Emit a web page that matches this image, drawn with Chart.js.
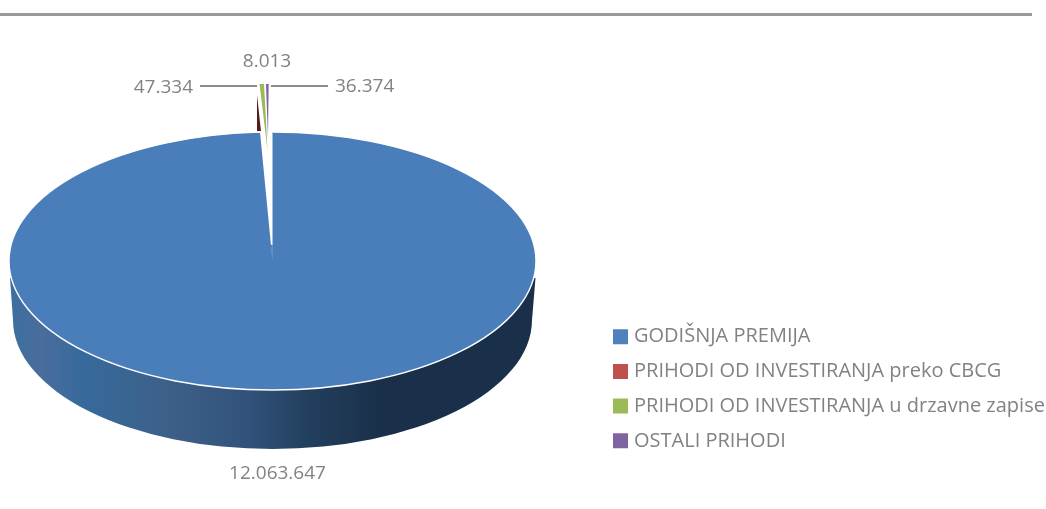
<!DOCTYPE html>
<html><head><meta charset="utf-8">
<style>
html,body{margin:0;padding:0;background:#fff;width:1046px;height:509px;overflow:hidden}
#rule{position:absolute;left:0;top:13px;width:1032px;height:3px;background:#999a9c}
#wrap{position:absolute;left:0;top:0;width:1046px;height:509px}
</style>
<script src="https://cdn.jsdelivr.net/npm/chart.js@4"></script>
</head><body>
<div id="wrap"><canvas id="c" width="1046" height="509"></canvas></div>
<div id="rule"></div>
<script>
const categories = ["GODIŠNJA PREMIJA","PRIHODI OD INVESTIRANJA preko CBCG","PRIHODI OD INVESTIRANJA u drzavne zapise","OSTALI PRIHODI"];
const values = [12063647, 47334, 8013, 36374];
const legendColors = ["#4f81bd","#c0504d","#9bbb59","#8064a2"];
const sliceColors = ["#4a7ebb","#551c1c","#9bbb59","#8064a2"];

const TEXT = "#808285";
const FONT = '"Open Sans"';
const face = {cx:272.5, cy:261, rx:263.5, ry:129};
const base = {cx:272.5, cy:320, rx:259.5, ry:129, topY:278};
const tipY = 245;
const legendLeft = 602.3;
const slivers = {
  1:{tip:[257,95],  rim:[259,131],  w:4},
  2:{tip:[267.5,150],rim:[261.8,84],w:4.5},
  3:{tip:[268,138], rim:[267.3,84], w:2.7}
};
const labelPos = [[277.5,473.5,"center"],[193,88,"right"],[267,62,"center"],[335,87,"left"]];
const leaders = [[200,257,86],[271,328,86]];
const fmt = v => String(v).replace(/\B(?=(\d{3})+(?!\d))/g,".");

const pie3d = {
  id:"pie3d",
  afterLayout(chart){ chart.legend.left = legendLeft; },
  beforeDatasetsDraw(chart){
    const ctx = chart.ctx, arcs = chart.getDatasetMeta(0).data, blue = arcs[0];
    const R = blue.outerRadius, Cx = blue.x, Cy = blue.y;
    // side wall
    const g = ctx.createLinearGradient(face.cx-face.rx,0,face.cx+face.rx,0);
    [[0,"#3a6f9f"],[0.06,"#4a6d9c"],[0.14,"#366a9c"],[0.30,"#3d6088"],[0.45,"#32527c"],[0.56,"#23405f"],[0.70,"#1a304a"],[1,"#1a304a"]].forEach(s=>g.addColorStop(s[0],s[1]));
    ctx.save();
    ctx.beginPath();
    ctx.moveTo(face.cx-face.rx+1,base.topY);
    ctx.lineTo(base.cx-base.rx,base.cy);
    ctx.ellipse(base.cx,base.cy,base.rx,base.ry,0,Math.PI,0,true);
    ctx.lineTo(face.cx+face.rx-0.5,base.topY);
    ctx.lineTo(face.cx,face.cy);
    ctx.closePath();
    ctx.fillStyle = g; ctx.fill();
    ctx.restore();
    // top face
    ctx.save();
    ctx.translate(face.cx,face.cy);
    ctx.scale(face.rx/R,face.ry/R);
    ctx.translate(-Cx,-Cy);
    blue.draw(ctx);
    // wedge tip closure
    const f = (face.cy-tipY)/face.ry*R;
    ctx.beginPath();
    ctx.moveTo(Cx,Cy+2);
    ctx.lineTo(Cx+f*Math.cos(blue.endAngle),Cy+f*Math.sin(blue.endAngle));
    ctx.lineTo(Cx+f*Math.cos(blue.startAngle),Cy+f*Math.sin(blue.startAngle));
    ctx.closePath();
    ctx.fillStyle = sliceColors[0]; ctx.strokeStyle = sliceColors[0]; ctx.lineWidth = 0.5;
    ctx.fill(); ctx.stroke();
    ctx.restore();
    // rim highlight
    ctx.save();
    ctx.beginPath();
    ctx.ellipse(face.cx,face.cy,face.rx,face.ry,0,blue.startAngle,blue.endAngle);
    ctx.strokeStyle="#ffffff"; ctx.lineWidth=1.4; ctx.stroke();
    ctx.restore();
    // exploded slivers
    for(let i=1;i<arcs.length;i++){
      const a = arcs[i], s = slivers[i];
      const mid=(a.startAngle+a.endAngle)/2, hw=(a.endAngle-a.startAngle)/2;
      const dx=Math.cos(mid),dy=Math.sin(mid),px=-dy,py=dx;
      const e1x=(s.rim[0]-s.tip[0])/R,e1y=(s.rim[1]-s.tip[1])/R;
      const e2x=(s.w/2)/(R*Math.sin(hw));
      const A=e1x*dx+e2x*px, C=e1x*dy+e2x*py, B=e1y*dx, D=e1y*dy;
      ctx.save();
      ctx.transform(A,B,C,D,s.tip[0]-(A*Cx+C*Cy),s.tip[1]-(B*Cx+D*Cy));
      a.draw(ctx);
      ctx.restore();
    }
    // leaders + value labels
    ctx.save();
    ctx.strokeStyle="#8c8c8e"; ctx.lineWidth=2;
    leaders.forEach(l=>{ctx.beginPath();ctx.moveTo(l[0],l[2]);ctx.lineTo(l[1],l[2]);ctx.stroke();});
    ctx.fillStyle=TEXT; ctx.font="19px "+FONT; ctx.textBaseline="middle";
    values.forEach((v,i)=>{ctx.textAlign=labelPos[i][2];ctx.fillText(fmt(v),labelPos[i][0],labelPos[i][1]);});
    ctx.restore();
    return false;
  }
};

new Chart(document.getElementById("c"),{
  type:"pie",
  data:{labels:categories,datasets:[{data:values,backgroundColor:sliceColors,borderWidth:0}]},
  options:{
    responsive:false,animation:false,
    layout:{padding:{right:2,bottom:43.5,top:20}},
    plugins:{
      tooltip:{enabled:false},
      legend:{
        position:"right",align:"end",
        labels:{
          boxWidth:7,boxHeight:7,padding:14.7,color:TEXT,
          font:{family:FONT,size:20},
          generateLabels:()=>categories.map((t,i)=>({text:t,fillStyle:legendColors[i],strokeStyle:legendColors[i],lineWidth:8,index:i,fontColor:TEXT}))
        }
      }
    }
  },
  plugins:[pie3d]
});
</script>
</body></html>
